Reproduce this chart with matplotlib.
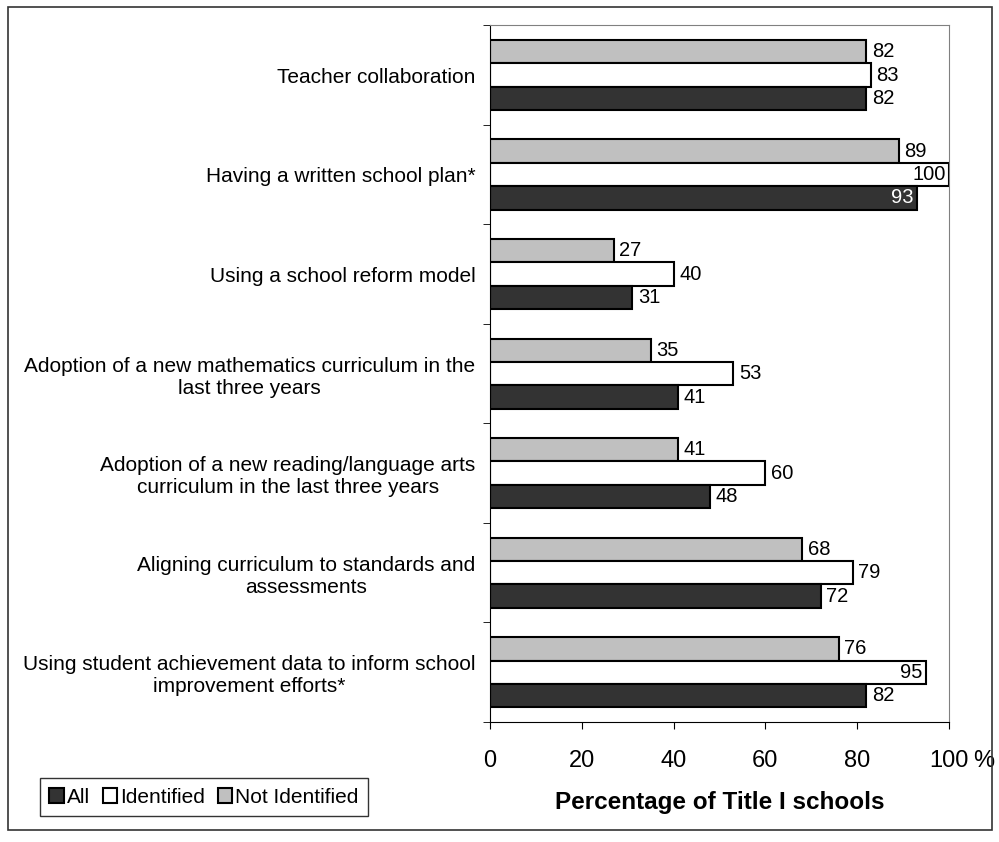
import matplotlib
matplotlib.use("Agg")
import matplotlib.pyplot as plt
from matplotlib.patches import Rectangle
import numpy as np

plt.rcParams["font.family"] = ["Liberation Sans", "DejaVu Sans"]

categories = [
    "Teacher collaboration",
    "Having a written school plan*",
    "Using a school reform model",
    "Adoption of a new mathematics curriculum in the\nlast three years",
    "Adoption of a new reading/language arts\ncurriculum in the last three years",
    "Aligning curriculum to standards and\nassessments",
    "Using student achievement data to inform school\nimprovement efforts*",
]
not_identified = [82, 89, 27, 35, 41, 68, 76]
identified = [83, 100, 40, 53, 60, 79, 95]
all_schools = [82, 93, 31, 41, 48, 72, 82]
x_ticks = [0, 20, 40, 60, 80, 100]
x_ticklabels = ["0", "20", "40", "60", "80", "100"]

fig = plt.figure(figsize=(9.99, 8.42), dpi=100)
ax = fig.add_axes([0.4905, 0.1425, 0.4595, 0.8275])

# outer frame around the whole figure
fig.patches.append(Rectangle((0.008, 0.014), 0.985, 0.978, transform=fig.transFigure,
                             fill=False, edgecolor="#333333", linewidth=1.2))

n = len(categories)
y = np.arange(n)
h = 0.235
series = [
    (not_identified, "#c0c0c0", -h, "Not Identified"),
    (identified, "white", 0, "Identified"),
    (all_schools, "#333333", h, "All"),
]

for vals, col, off, lab in series:
    ax.barh(y + off, vals, height=h, color=col, edgecolor="black", linewidth=1.5, label=lab)
    for yi, v in zip(y, vals):
        if v >= 90:
            tc = "white" if col == "#333333" else "black"
            ax.text(v - 0.8, yi + off, str(v), ha="right", va="center", fontsize=14.5, color=tc)
        else:
            ax.text(v + 1.2, yi + off, str(v), ha="left", va="center", fontsize=14.5)

ax.set_xlim(0, 100)
ax.set_ylim(n - 0.5, -0.5)
ax.set_yticks(y)
ax.set_yticklabels(categories, fontsize=15, ha="right", multialignment="center")
ax.tick_params(axis="y", which="major", length=0, pad=10.5)
ax.set_yticks(np.arange(n + 1) - 0.5, minor=True)
ax.tick_params(axis="y", which="minor", length=5, direction="out")

ax.set_xticks(x_ticks)
ax.set_xticklabels(x_ticklabels, fontsize=17)
ax.tick_params(axis="x", length=5, direction="out", pad=15)
# percent sign follows the last tick label
ax.annotate("%", xy=(100, 0), xycoords=("data", "axes fraction"), xytext=(17.5, -20),
            textcoords="offset points", ha="left", va="top", fontsize=17, annotation_clip=False)
ax.set_xlabel("Percentage of Title I schools", fontsize=17.5, fontweight="bold", labelpad=14)

ax.spines["top"].set_color("#808080")
ax.spines["right"].set_color("#808080")
ax.spines["left"].set_color("black")
ax.spines["bottom"].set_color("black")

handles, labels = ax.get_legend_handles_labels()
order = [2, 1, 0]
leg = fig.legend([handles[i] for i in order], [labels[i] for i in order],
                 loc="lower left", bbox_to_anchor=(0.040, 0.031), borderaxespad=0, ncol=3,
                 fontsize=15, frameon=True, fancybox=False, edgecolor="black", handlelength=0.7,
                 handleheight=0.7, handletextpad=0.15, columnspacing=0.6, borderpad=0.45)
leg.get_frame().set_linewidth(1.0)

fig.savefig("out.png", dpi=100)
